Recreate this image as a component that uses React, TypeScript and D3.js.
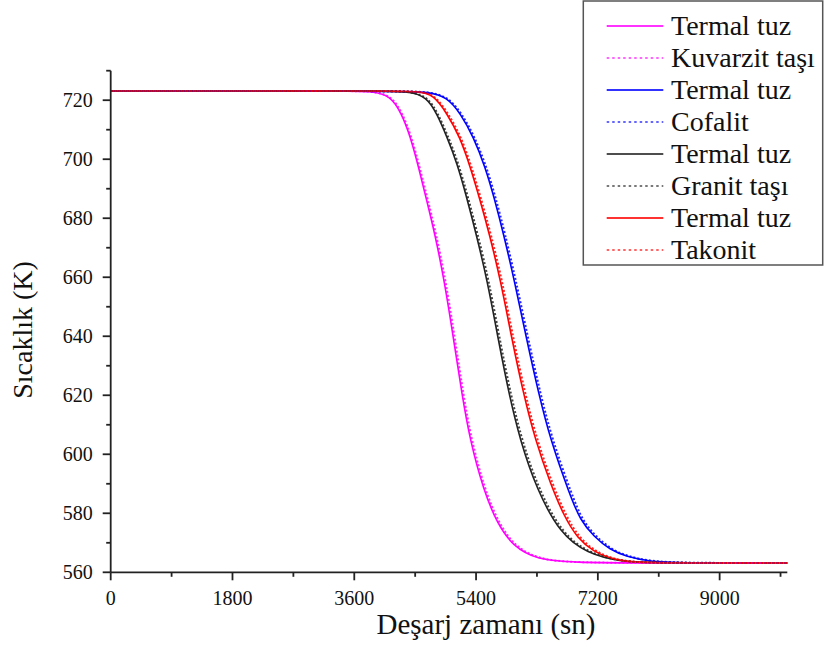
import React from "react";
import * as d3 from "d3";

// ---- Data (time in s, temperature in K) ----
const pinkSolidT = [0, 3600, 3850, 4130, 4300, 4430, 4550, 4670, 4790, 4930, 5070, 5190, 5310, 5510, 5710, 5950, 6300, 6790, 8000, 10000];
const pinkSolidK = [723.15, 723.15, 723.0, 721.7, 715.5, 707.6, 697.4, 686.1, 674.8, 659.0, 638.7, 620.6, 604.8, 587.9, 576.6, 568.7, 564.4, 563.3, 563.15, 563.15];
const pinkDotT = [0, 3600, 3860, 4145, 4315, 4445, 4565, 4688, 4808, 4950, 5090, 5210, 5330, 5530, 5735, 5975, 6330, 6820, 8000, 10000];
const pinkDotK = [723.15, 723.15, 723.0, 721.7, 715.5, 707.6, 697.4, 686.1, 674.8, 659.0, 638.7, 620.6, 604.8, 587.9, 576.6, 568.7, 564.4, 563.3, 563.15, 563.15];

const blueSolidT = [0, 4300, 4700, 4970, 5170, 5360, 5535, 5665, 5805, 5965, 6150, 6325, 6500, 6790, 6940, 7140, 7380, 7630, 7930, 8420, 10000];
const blueSolidK = [723.15, 723.15, 722.8, 721.1, 715.5, 707.6, 697.4, 687.2, 674.8, 659.0, 638.7, 620.6, 604.8, 586.0, 577.7, 572.1, 567.6, 565.3, 563.8, 563.15, 563.15];
const blueDotT = [0, 4300, 4715, 4990, 5190, 5380, 5555, 5687, 5828, 5988, 6175, 6350, 6528, 6820, 6970, 7170, 7410, 7660, 7960, 8450, 10000];
const blueDotK = [723.15, 723.15, 722.8, 721.1, 715.5, 707.6, 697.4, 687.2, 674.8, 659.0, 638.7, 620.6, 604.8, 586.0, 577.7, 572.1, 567.6, 565.3, 563.8, 563.15, 563.15];

const blackSolidT = [0, 4000, 4420, 4670, 4820, 4970, 5120, 5260, 5400, 5565, 5730, 5885, 6050, 6300, 6645, 7040, 7530, 8020, 10000];
const blackSolidK = [723.15, 723.15, 723.0, 721.1, 715.5, 707.6, 698.6, 687.2, 674.8, 659.0, 638.7, 620.6, 604.8, 587.9, 573.0, 566.4, 563.6, 563.15, 563.15];
const blackDotT = [0, 4000, 4435, 4688, 4838, 4990, 5140, 5280, 5422, 5588, 5752, 5910, 6075, 6328, 6675, 7075, 7560, 8050, 10000];
const blackDotK = [723.15, 723.15, 723.0, 721.1, 715.5, 707.6, 698.6, 687.2, 674.8, 659.0, 638.7, 620.6, 604.8, 587.9, 573.0, 566.4, 563.6, 563.15, 563.15];

const redSolidT = [0, 4100, 4550, 4770, 4970, 5160, 5315, 5460, 5595, 5762, 5932, 6100, 6275, 6500, 6700, 6900, 7140, 7380, 7630, 8000, 10000];
const redSolidK = [723.15, 723.15, 723.0, 721.9, 715.5, 707.6, 697.4, 686.1, 674.8, 659.0, 638.7, 620.6, 604.8, 590.0, 579.0, 571.5, 567.0, 564.7, 563.6, 563.15, 563.15];
const redDotT = [0, 4100, 4565, 4788, 4990, 5180, 5335, 5480, 5617, 5785, 5955, 6125, 6300, 6528, 6730, 6930, 7170, 7410, 7660, 8030, 10000];
const redDotK = [723.15, 723.15, 723.0, 721.9, 715.5, 707.6, 697.4, 686.1, 674.8, 659.0, 638.7, 620.6, 604.8, 590.0, 579.0, 571.5, 567.0, 564.7, 563.6, 563.15, 563.15];

const legendLabels = ["Termal tuz", "Kuvarzit taşı", "Termal tuz", "Cofalit", "Termal tuz", "Granit taşı", "Termal tuz", "Takonit"];
const xMajorTicks = [0, 1800, 3600, 5400, 7200, 9000];
const xMinorTicks = [900, 2700, 4500, 6300, 8100, 9900];
const yMajorTicks = [560, 580, 600, 620, 640, 660, 680, 700, 720];
const yMinorTicks = [570, 590, 610, 630, 650, 670, 690, 710, 730];
const xTitle = "Deşarj zamanı (sn)";
const yTitle = "Sıcaklık (K)";

const series = [
  { t: pinkSolidT, k: pinkSolidK, color: "#ff00ff", dashed: false },
  { t: pinkDotT, k: pinkDotK, color: "#ff00ff", dashed: true },
  { t: blueSolidT, k: blueSolidK, color: "#0000ff", dashed: false },
  { t: blueDotT, k: blueDotK, color: "#0000ff", dashed: true },
  { t: blackSolidT, k: blackSolidK, color: "#222222", dashed: false },
  { t: blackDotT, k: blackDotK, color: "#222222", dashed: true },
  { t: redSolidT, k: redSolidK, color: "#ff0000", dashed: false },
  { t: redDotT, k: redDotK, color: "#ff0000", dashed: true },
];

const FONT = "Liberation Serif";

export default function App() {
  const W = 825, H = 657;
  const x = d3.scaleLinear().domain([0, 10000]).range([110.7, 787.3]);
  const y = d3.scaleLinear().domain([560, 730]).range([572.3, 70.7]);
  const line = d3
    .line<[number, number]>()
    .x((d) => x(d[0]))
    .y((d) => y(d[1]))
    .curve(d3.curveBasis);

  const axisColor = "#222";
  const legendRowY = (i: number) => 26 + i * 32;

  return (
    <svg width={W} height={H} style={{ position: "absolute", left: 0, top: 0, background: "#fff" }}>
      <rect x={0} y={0} width={W} height={H} fill="#fff" />
      {series.filter((s) => !s.dashed).map((s, i) => (
        <path key={"s" + i} d={line(s.t.map((t, j) => [t, s.k[j]] as [number, number])) || ""} fill="none" stroke={s.color} strokeWidth={1.6} />
      ))}
      {series.filter((s) => s.dashed).map((s, i) => (
        <path key={"d" + i} d={line(s.t.map((t, j) => [t, s.k[j]] as [number, number])) || ""} fill="none" stroke={s.color} strokeWidth={2} strokeDasharray="2,2" opacity={0.85} />
      ))}
      <line x1={x(0)} x2={x(0)} y1={y(730)} y2={y(560)} stroke={axisColor} strokeWidth={1.8} />
      <line x1={x(0)} x2={x(10000)} y1={y(560)} y2={y(560)} stroke={axisColor} strokeWidth={1.8} />
      <g fontFamily={FONT}>
        {yMajorTicks.map((v) => (
          <g key={"ym" + v}>
            <line x1={x(0) - 8} x2={x(0)} y1={y(v)} y2={y(v)} stroke={axisColor} strokeWidth={1.8} />
            <text x={x(0) - 18} y={y(v)} dy="0.35em" textAnchor="end" fontSize={20} fill="#111">{v}</text>
          </g>
        ))}
        {yMinorTicks.map((v) => (
          <line key={"yn" + v} x1={x(0) - 4.5} x2={x(0)} y1={y(v)} y2={y(v)} stroke={axisColor} strokeWidth={1.8} />
        ))}
        {xMajorTicks.map((v) => (
          <g key={"xm" + v}>
            <line x1={x(v)} x2={x(v)} y1={y(560)} y2={y(560) + 8} stroke={axisColor} strokeWidth={1.8} />
            <text x={x(v)} y={605} textAnchor="middle" fontSize={20} fill="#111">{v}</text>
          </g>
        ))}
        {xMinorTicks.map((v) => (
          <line key={"xn" + v} x1={x(v)} x2={x(v)} y1={y(560)} y2={y(560) + 4.5} stroke={axisColor} strokeWidth={1.8} />
        ))}
        <text x={486} y={634} textAnchor="middle" fontSize={29} fill="#111">{xTitle}</text>
        <text transform={`translate(32,330) rotate(-90)`} textAnchor="middle" fontSize={28} fill="#111">{yTitle}</text>
        <rect x={583.3} y={1} width={239.4} height={264} fill="#fff" stroke="#555" strokeWidth={1.5} />
        {legendLabels.map((lab, i) => {
          const s = series[i];
          return (
            <g key={"lg" + i}>
              <line x1={606.7} x2={663.3} y1={legendRowY(i)} y2={legendRowY(i)} stroke={s.color} strokeWidth={s.dashed ? 1.5 : 2} strokeDasharray={s.dashed ? "2.5,3" : undefined} opacity={0.8} />
              <text x={671} y={legendRowY(i) + 9} fontSize={28} fill="#111">{lab}</text>
            </g>
          );
        })}
      </g>
    </svg>
  );
}
